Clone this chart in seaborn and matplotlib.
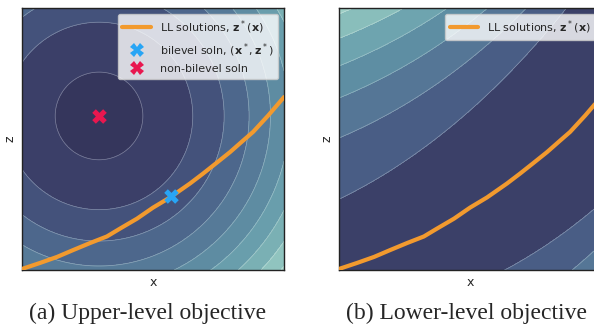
import numpy as np
import matplotlib
matplotlib.use("Agg")
import matplotlib.pyplot as plt
import seaborn as sns
from matplotlib.lines import Line2D
from matplotlib.colors import LinearSegmentedColormap

# ---------------- data ----------------
curve_x = [0.0, 0.069, 0.134, 0.195, 0.260, 0.324, 0.374, 0.439, 0.500,
           0.565, 0.641, 0.691, 0.744, 0.794, 0.844, 0.882, 0.940, 1.0]
curve_z = [0.004, 0.027, 0.050, 0.076, 0.103, 0.128, 0.158, 0.196, 0.238,
           0.277, 0.330, 0.368, 0.410, 0.450, 0.494, 0.527, 0.590, 0.660]
bilevel_soln = [0.569, 0.281]
nonbilevel_soln = [0.294, 0.588]
# upper-level objective: squared distance to the non-bilevel point
ul_levels = [0.028, 0.128, 0.228, 0.328, 0.428, 0.528, 0.628, 0.728, 0.828]
# lower-level objective: (z - z*(x) - c(x))^2 + m(x)
ll_levels = [0.061, 0.231, 0.401, 0.571, 0.741, 0.911]
ll_center_offset = [0.02, 0.04]   # c(x) = a + b x
ll_min_shift = [-0.06, -0.09]     # m(x) = a x + b x^2
legend_labels = [r"LL solutions, $\mathbf{z}^*(\mathbf{x})$",
                 r"bilevel soln, $(\mathbf{x}^*, \mathbf{z}^*)$",
                 "non-bilevel soln"]
captions = ["(a) Upper-level objective", "(b) Lower-level objective"]
axis_labels = ["x", "z"]

orange = "#f29a2e"
blue = "#28a5f5"
red = "#e8174f"
cmap_colors = ["#34345a", "#3f4670", "#4a6088", "#557796", "#5e8da3",
               "#6ca2ae", "#82b8b8", "#a2d3c8"]

sns.set_theme(style="white")
plt.rcParams["font.family"] = ["DejaVu Sans"]
cmap = LinearSegmentedColormap.from_list("ref", cmap_colors)

W, H = 594, 331
fig = plt.figure(figsize=(W / 100, H / 100), dpi=100)
ax1 = fig.add_axes([22 / W, (H - 270) / H, 262 / W, 262 / H])
ax2 = fig.add_axes([339 / W, (H - 270) / H, 262 / W, 262 / H])

gx = np.linspace(0, 1, 400)
X, Z = np.meshgrid(gx, gx)

# upper-level field
F = (X - nonbilevel_soln[0]) ** 2 + (Z - nonbilevel_soln[1]) ** 2
lev1 = [F.min() - 1e-9] + ul_levels + [F.max() + 1e-9]
ax1.contourf(X, Z, F, levels=lev1, cmap=cmap)
ax1.contour(X, Z, F, levels=ul_levels, colors="white", linewidths=0.5, alpha=0.35)

# lower-level field
coef = np.polyfit(curve_x, curve_z, 3)
zs = np.polyval(coef, X)
c = ll_center_offset[0] + ll_center_offset[1] * X
m = ll_min_shift[0] * X + ll_min_shift[1] * X ** 2
G = (Z - zs - c) ** 2 + m
lev2 = [G.min() - 1e-9] + ll_levels + [G.max() + 1e-9]
ax2.contourf(X, Z, G, levels=lev2, cmap=cmap)
ax2.contour(X, Z, G, levels=ll_levels, colors="white", linewidths=0.5, alpha=0.35)

for ax in (ax1, ax2):
    sns.lineplot(x=curve_x, y=curve_z, ax=ax, color=orange, linewidth=3,
                 sort=False, estimator=None, zorder=4)
    ax.set_xlim(0, 1)
    ax.set_ylim(0, 1)
    ax.set_xticks([])
    ax.set_yticks([])
    ax.set_xlabel(axis_labels[0], fontsize=9)
    ax.set_ylabel(axis_labels[1], fontsize=9)
    for s in ax.spines.values():
        s.set_color("#222222")
        s.set_linewidth(1.0)

ax1.scatter([bilevel_soln[0]], [bilevel_soln[1]], marker="X", s=110,
            color=blue, linewidths=0, zorder=5)
ax1.scatter([nonbilevel_soln[0]], [nonbilevel_soln[1]], marker="X", s=110,
            color=red, linewidths=0, zorder=5)

h_line = Line2D([], [], color=orange, linewidth=3)
h_blue = Line2D([], [], marker="X", linestyle="none", color=blue,
                markersize=10, markeredgewidth=0)
h_red = Line2D([], [], marker="X", linestyle="none", color=red,
               markersize=10, markeredgewidth=0)
ax1.legend([h_line, h_blue, h_red], legend_labels, loc="upper right",
           fontsize=8, framealpha=0.8, handlelength=2.6)
ax2.legend([h_line], legend_labels[:1], loc="upper right",
           fontsize=8, framealpha=0.8, handlelength=2.6)

fig.text(148 / W, 1 - 313 / H, captions[0], ha="center", va="center",
         fontsize=17, family="Liberation Serif")
fig.text(466 / W, 1 - 313 / H, captions[1], ha="center", va="center",
         fontsize=17, family="Liberation Serif")

fig.savefig("out.png", dpi=100)
